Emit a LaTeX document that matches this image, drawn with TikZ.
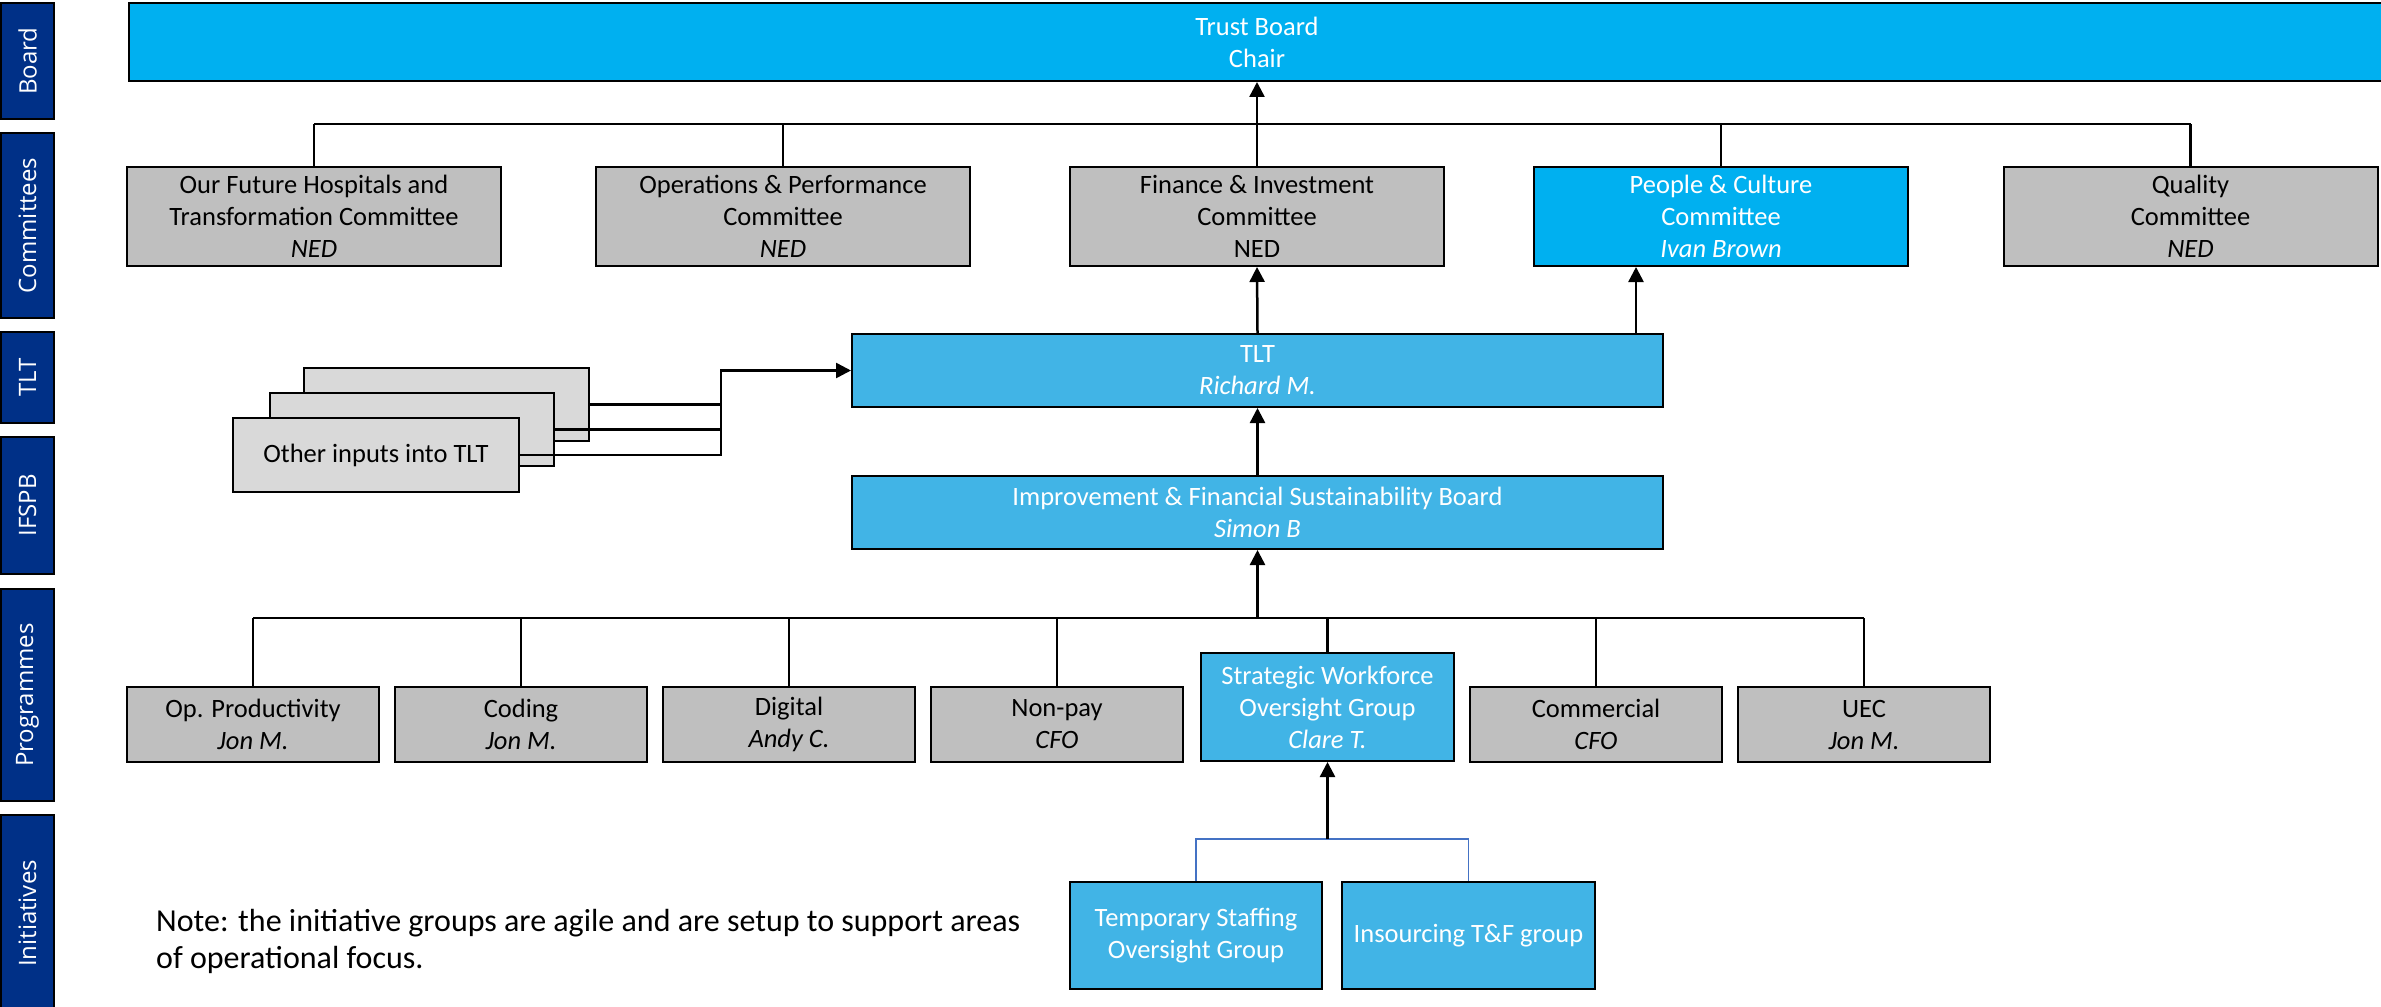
\documentclass[tikz,border=0pt]{standalone}
\usepackage{fontspec}
\setmainfont{Carlito}
\newfontfamily\sidefont{Open Sans}
\usetikzlibrary{arrows.meta}
\definecolor{brightblue}{HTML}{00B0F0}
\definecolor{midblue}{HTML}{41B4E6}
\definecolor{boxgray}{HTML}{BFBFBF}
\definecolor{inputgray}{HTML}{D9D9D9}
\definecolor{navy}{HTML}{003087}
\definecolor{thinblue}{HTML}{4472C4}
\begin{document}
\begin{tikzpicture}[x=1pt,y=-1pt,
  box/.style={draw=black, line width=2pt, inner sep=0pt, align=center, font=\fontsize{26.5}{32}\selectfont},
  graybox/.style={box, fill=boxgray, text=black},
  bluebox/.style={box, fill=midblue, text=white},
  brightbox/.style={box, fill=brightblue, text=white},
  inbox/.style={box, fill=inputgray, text=black},
  sidelabel/.style={draw=black, line width=1.5pt, fill=navy, text=white, inner sep=0pt, rotate=90, minimum height=53pt, font=\sidefont\fontsize{24}{28}\selectfont},
  conn/.style={draw=black, line width=2.5pt},
  arr/.style={conn, -{Triangle[width=15pt,length=15pt]}},
  cbox/.style={minimum width=374pt, minimum height=99pt},
  pbox/.style={minimum width=252pt, minimum height=75pt},
  ]
\useasboundingbox (0,0) rectangle (2381,1006);
\fill[white] (0,0) rectangle (2381,1006);

% side labels
\node[sidelabel, minimum width=116pt] (sBoard) at (27.5,61) {Board};
\node[sidelabel, minimum width=185pt] (sComm) at (27.5,225.5) {Committees};
\node[sidelabel, minimum width=91pt] (sTLT) at (27.5,377.5) {TLT};
\node[sidelabel, minimum width=137pt] (sIFSPB) at (27.5,505.5) {IFSPB};
\node[sidelabel, minimum width=212pt] (sProg) at (27.5,695) {Programmes};
\node[sidelabel, minimum width=197pt] (sInit) at (27.5,913.5) {Initiatives};

% board
\node[brightbox, minimum width=2256pt, minimum height=78pt] (tb) at (1257,42) {Trust Board\\Chair};

% committees
\node[graybox, cbox] (c1) at (314,216.5) {Our Future Hospitals and\\Transformation Committee\\\textit{NED}};
\node[graybox, cbox] (c2) at (783,216.5) {Operations \& Performance\\Committee\\\textit{NED}};
\node[graybox, cbox] (c3) at (1257,216.5) {Finance \& Investment\\Committee\\NED};
\node[brightbox, cbox] (c4) at (1721,216.5) {People \& Culture\\Committee\\\textit{Ivan Brown}};
\node[graybox, cbox] (c5) at (2190.5,216.5) {Quality\\Committee\\\textit{NED}};

% TLT and IFSB
\node[bluebox, minimum width=811pt, minimum height=73pt] (tlt) at (1257.5,370.5) {TLT\\\textit{Richard M.}};
\node[bluebox, minimum width=811pt, minimum height=73pt] (ifsb) at (1257.5,512.5) {Improvement \& Financial Sustainability Board\\\textit{Simon B}};

% other inputs
\node[inbox, minimum width=285pt, minimum height=73pt] (o3) at (446.5,404.5) {};
\node[inbox, minimum width=284pt, minimum height=73pt] (o2) at (412,429.5) {};
\node[inbox, minimum width=286pt, minimum height=74pt] (o1) at (376,455) {Other inputs into TLT};

% programmes
\node[graybox, pbox] (p1) at (253,724.5) {Op. Productivity\\\textit{Jon M.}};
\node[graybox, pbox] (p2) at (521,724.5) {Coding\\\textit{Jon M.}};
\node[graybox, pbox] (p3) at (789,724.5) {Digital\\\textit{Andy C.}};
\node[graybox, pbox] (p4) at (1057,724.5) {Non-pay\\\textit{CFO}};
\node[bluebox, minimum width=253pt, minimum height=108pt] (swog) at (1327.5,707) {Strategic Workforce\\Oversight Group\\\textit{Clare T.}};
\node[graybox, pbox] (p6) at (1596,724.5) {Commercial\\\textit{CFO}};
\node[graybox, pbox] (p7) at (1864,724.5) {UEC\\\textit{Jon M.}};

% initiatives
\node[bluebox, minimum width=252pt, minimum height=107pt] (i1) at (1196,935.5) {Temporary Staffing\\Oversight Group};
\node[bluebox, minimum width=253pt, minimum height=107pt] (i2) at (1468.5,935.5) {Insourcing T\&F group};

% note
\node[anchor=west, align=left, inner sep=0pt, font=\fontsize{32}{37}\selectfont] (note) at (156,941.5) {Note: the initiative groups are agile and are setup to support areas\\of operational focus.};

% committee connectors
\coordinate (cb) at (0,124);
\foreach \n in {c1,c2,c4,c5} \draw[conn] (\n.north) -- (\n.north |- cb);
\draw[conn] (c1.north |- cb) -- (c5.north |- cb);
\draw[arr] (c3.north) -- (tb.south);
\draw[arr] (tlt.north) -- (c3.south);
\coordinate (pc) at (1636,300);
\draw[arr] (pc |- tlt.north) -- (pc |- c4.south);
\draw[arr] (ifsb.north) -- (tlt.south);

% other inputs connectors
\coordinate (mj) at (721,370.5);
\draw[conn] (o3.east) -| (mj);
\draw[conn] (o2.east) -| (mj);
\draw[arr] (o1.east) -| (mj) -- (tlt.west);

% programme connectors
\coordinate (pb) at (0,618);
\foreach \n in {p1,p2,p3,p4,swog,p6,p7} \draw[conn] (\n.north) -- (\n.north |- pb);
\draw[conn] (p1.north |- pb) -- (p7.north |- pb);
\draw[arr] (ifsb.south |- pb) -- (ifsb.south);

% initiative connectors
\coordinate (ib) at (0,839);
\draw[thinblue, line width=1.5pt] (i1.north) -- (i1.north |- ib) -- (i2.north |- ib) -- (i2.north);
\draw[arr] (swog.south |- ib) -- (swog.south);
\end{tikzpicture}
\end{document}
